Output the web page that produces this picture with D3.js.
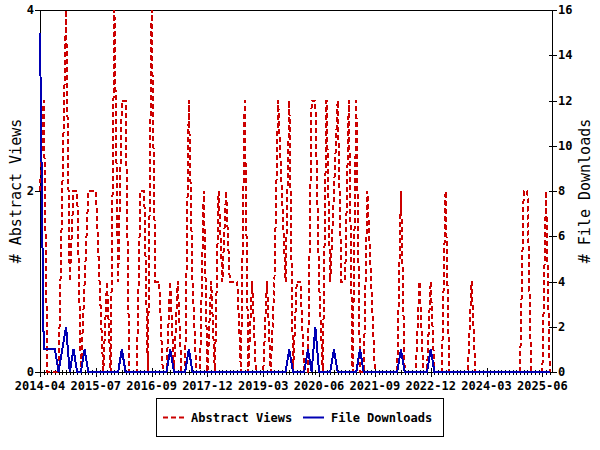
<!DOCTYPE html>
<html><head><meta charset="utf-8">
<script src="https://cdn.jsdelivr.net/npm/d3@7/dist/d3.min.js"></script>
<style>body{margin:0;background:#fff}svg{display:block}</style>
</head><body>
<svg id="c" width="600" height="450"></svg>
<script>
// x tick labels (every 15 months, starting at month index 0 = 2014-04)
const tickLabels = ["2014-04","2015-07","2016-09","2017-12","2019-03","2020-06","2021-09","2022-12","2024-03","2025-06"];
const tickIndex = [0,15,30,45,60,75,90,105,120,135];
const leftTicks = [0,2,4];
const rightTicks = [0,2,4,6,8,10,12,14,16];
const seriesNames = ["Abstract Views","File Downloads"];

// monthly values, index 0 = 2014-04
const abstractViews = [
 2,3,0,0,0,0,2,4,1,2, 2,0,1,2,2,2,1,0,1,0,
 4,1,3,3,0,0,0,2,2,0, 4,1,1,0,0,1,0,1,0,0,
 3,1,0,0,2,0,1,0,2,1, 2,1,1,1,0,3,0,1,0,0,
 0,1,0,1,3,2,1,3,0,1, 1,0,0,3,3,1,0,3,1,2,
 3,1,1,3,0,3,0,0,2,1, 0,0,0,0,0,0,0,2,0,0,
 0,0,1,0,0,1,0,0,0,2, 0,0,0,0,0,0,1,0,0,0,
 0,0,0,0,0,0,0,0,0,0, 2,2,0,0,0,0,2,0
];
const fileDownloads = [
 15,1,1,1,1,0,1,2,0,1, 0,0,1,0,0,0,0,0,0,0,
 0,0,1,0,0,0,0,0,0,0, 0,0,0,0,0,1,0,0,0,0,
 1,0,0,0,0,0,0,0,0,0, 0,0,0,0,0,0,0,0,0,0,
 0,0,0,0,0,0,0,1,0,0, 0,0,1,0,2,0,0,0,0,1,
 0,0,0,0,0,0,1,0,0,0, 0,0,0,0,0,0,0,1,0,0,
 0,0,0,0,0,1,0,0,0,0, 0,0,0,0,0,0,0,0,0,0,
 0,0,0,0,0,0,0,0,0,0, 0,0,0,0,0,0,0,0
];

const svg = d3.select("#c");
const L = 40, R = 552, T = 10, B = 372;
const font = "'DejaVu Sans Mono', monospace";

const x = d3.scaleLinear().domain([0, 137.6]).range([L, R]);
const yL = d3.scaleLinear().domain([0, 4]).range([B, T]);
const yR = d3.scaleLinear().domain([0, 16]).range([B, T]);

// border
svg.append("rect").attr("x", L + 0.5).attr("y", T + 0.5).attr("width", R - L).attr("height", B - T)
  .attr("fill", "none").attr("stroke", "#000").attr("stroke-width", 1).attr("shape-rendering", "crispEdges");

// minor x ticks (monthly)
const g = svg.append("g").attr("shape-rendering", "crispEdges");
g.selectAll("line.mx").data(d3.range(0, abstractViews.length)).enter().append("line")
  .attr("x1", d => Math.round(x(d)) + 0.5).attr("x2", d => Math.round(x(d)) + 0.5)
  .attr("y1", B - 2).attr("y2", B + 3).attr("stroke", "#000");
// major x ticks
g.selectAll("line.Mx").data(tickIndex).enter().append("line")
  .attr("x1", d => Math.round(x(d)) + 0.5).attr("x2", d => Math.round(x(d)) + 0.5)
  .attr("y1", B - 4).attr("y2", B + 5).attr("stroke", "#000");
svg.selectAll("text.xl").data(tickIndex).enter().append("text")
  .attr("x", d => x(d)).attr("y", B + 18).attr("text-anchor", "middle")
  .attr("font-family", font).attr("font-weight", "bold").attr("font-size", 12)
  .text((d, i) => tickLabels[i]);

// left axis
g.selectAll("line.yl").data(leftTicks).enter().append("line")
  .attr("x1", L - 5).attr("x2", L + 3)
  .attr("y1", d => Math.round(yL(d)) + 0.5).attr("y2", d => Math.round(yL(d)) + 0.5).attr("stroke", "#000");
svg.selectAll("text.yl").data(leftTicks).enter().append("text")
  .attr("x", L - 6).attr("y", d => yL(d) + 4).attr("text-anchor", "end")
  .attr("font-family", font).attr("font-weight", "bold").attr("font-size", 12).text(d => d);

// right axis
g.selectAll("line.yr").data(rightTicks).enter().append("line")
  .attr("x1", R - 3).attr("x2", R + 5)
  .attr("y1", d => Math.round(yR(d)) + 0.5).attr("y2", d => Math.round(yR(d)) + 0.5).attr("stroke", "#000");
svg.selectAll("text.yr").data(rightTicks).enter().append("text")
  .attr("x", R + 6).attr("y", d => yR(d) + 4).attr("text-anchor", "start")
  .attr("font-family", font).attr("font-weight", "bold").attr("font-size", 12).text(d => d);

// axis titles
svg.append("text").attr("transform", `translate(21,${(T + B) / 2}) rotate(-90)`)
  .attr("text-anchor", "middle").attr("font-family", font).attr("font-size", 15)
  .text("# " + seriesNames[0]);
svg.append("text").attr("transform", `translate(590,${(T + B) / 2}) rotate(-90)`)
  .attr("text-anchor", "middle").attr("font-family", font).attr("font-size", 15)
  .text("# " + seriesNames[1]);

// series
const red = "#cc0000", blue = "#0000b4";
const lineA = d3.line().x((d, i) => x(i)).y(d => yL(d));
const lineD = d3.line().x((d, i) => x(i)).y(d => yR(d));
svg.append("path").attr("d", lineA(abstractViews)).attr("fill", "none")
  .attr("stroke", red).attr("stroke-width", 2).attr("stroke-dasharray", "5,3")
  .attr("shape-rendering", "crispEdges");
svg.append("path").attr("d", lineD(fileDownloads)).attr("fill", "none")
  .attr("stroke", blue).attr("stroke-width", 2).attr("shape-rendering", "crispEdges");

// legend
const lg = svg.append("g");
lg.append("rect").attr("x", 156.5).attr("y", 398.5).attr("width", 287).attr("height", 38)
  .attr("fill", "#fff").attr("stroke", "#000").attr("shape-rendering", "crispEdges");
lg.append("line").attr("x1", 163).attr("x2", 184).attr("y1", 417.5).attr("y2", 417.5)
  .attr("stroke", red).attr("stroke-width", 2).attr("stroke-dasharray", "5,3");
lg.append("text").attr("x", 191).attr("y", 421.5).attr("font-family", font).attr("font-size", 12)
  .attr("font-weight", "bold").text(seriesNames[0]);
lg.append("line").attr("x1", 303).attr("x2", 324).attr("y1", 417.5).attr("y2", 417.5)
  .attr("stroke", blue).attr("stroke-width", 2);
lg.append("text").attr("x", 331).attr("y", 421.5).attr("font-family", font).attr("font-size", 12)
  .attr("font-weight", "bold").text(seriesNames[1]);
</script>
</body></html>
